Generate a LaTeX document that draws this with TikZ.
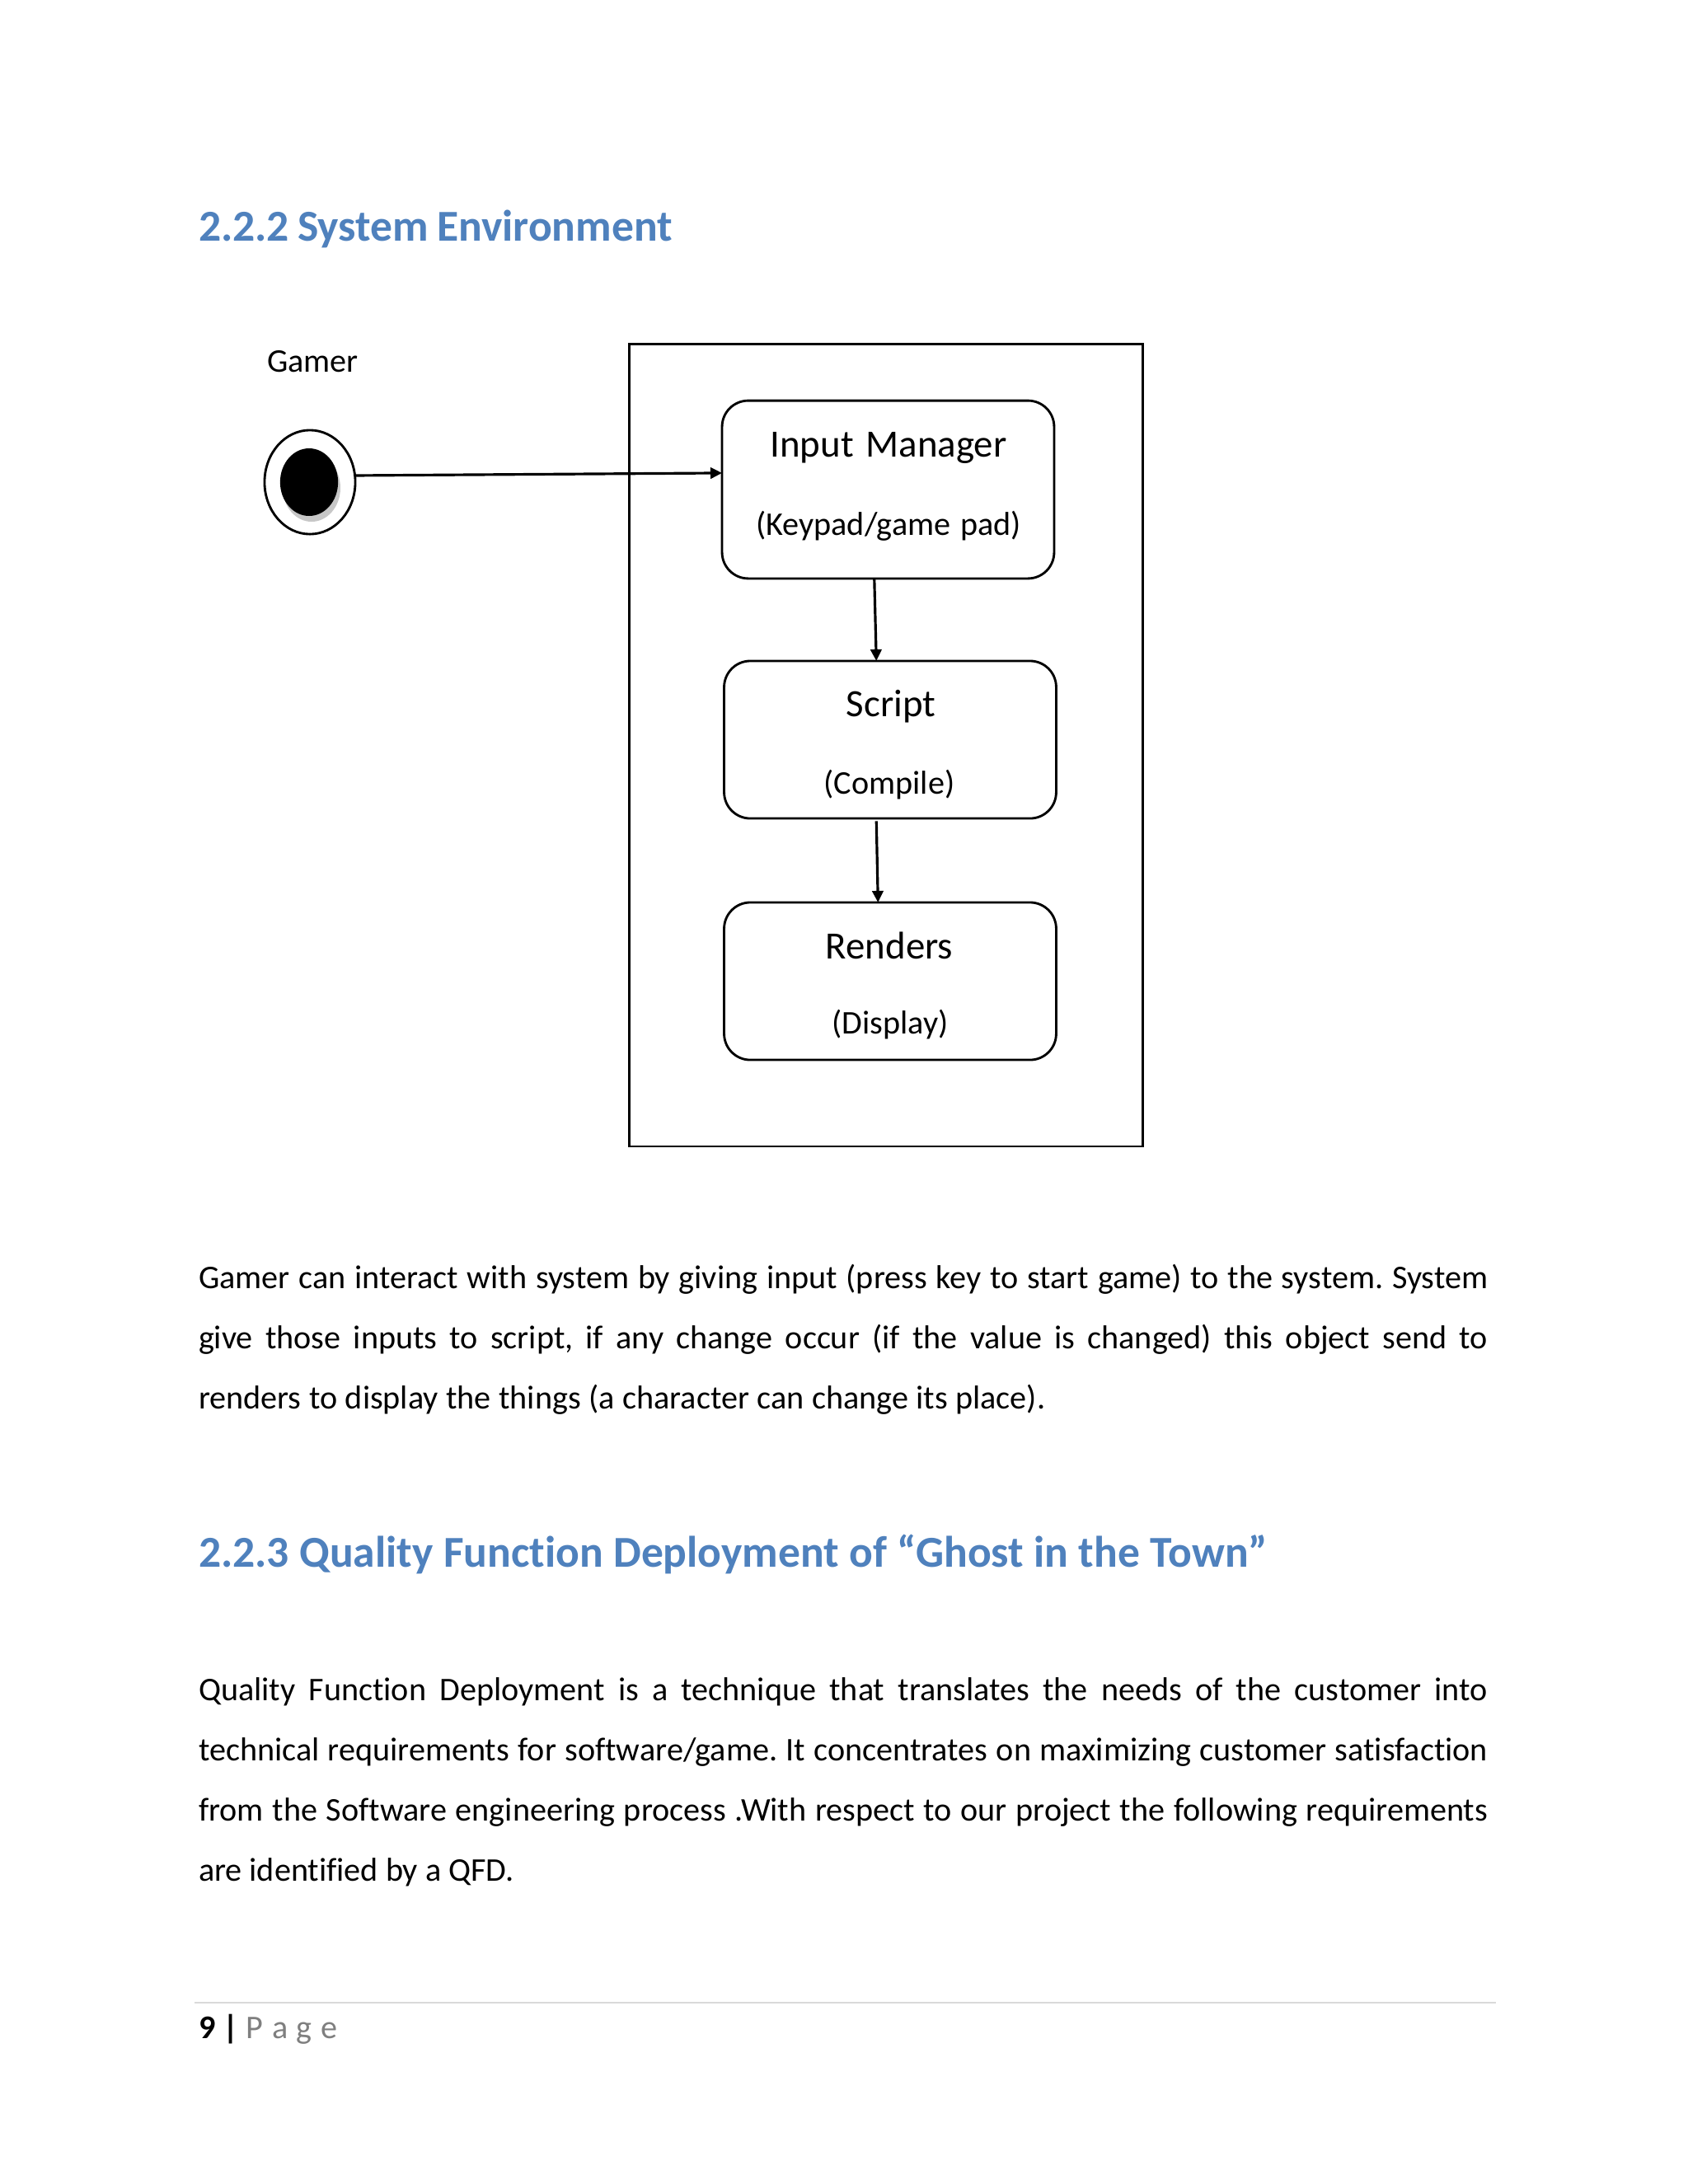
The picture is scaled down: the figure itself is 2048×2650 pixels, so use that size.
\documentclass[tikz,border=0pt]{standalone}
\usepackage{fontspec}
\setmainfont[Ligatures=CommonOff]{Carlito}
\usetikzlibrary{shapes.geometric,arrows.meta}
\definecolor{headblue}{HTML}{4F81BD}
\definecolor{pagegray}{HTML}{7F7F7F}
\definecolor{rulegray}{HTML}{D9D9D9}
\newcommand{\just}[1]{\makebox[467.4pt][s]{#1}}
\frenchspacing
\tikzset{
  x=0.29883pt,y=-0.29883pt,
  txt/.style={inner sep=0pt,outer sep=0pt,anchor=base west,font=\fontsize{12}{14}\selectfont},
  head/.style={inner sep=0pt,outer sep=0pt,anchor=base west,text=headblue,font=\fontsize{16}{19}\selectfont\bfseries},
  big/.style={inner sep=0pt,outer sep=0pt,anchor=base,font=\fontsize{14}{17}\selectfont},
  small/.style={inner sep=0pt,outer sep=0pt,anchor=base,font=\fontsize{12}{14}\selectfont},
  statebox/.style={draw,line width=0.85pt,rounded corners=9.5pt,inner sep=0pt,outer sep=0pt,minimum width=120.4pt},
  conn/.style={line width=0.95pt,-{Triangle[length=4.2pt,width=4pt]}},
}
\begin{document}
\begin{tikzpicture}
\useasboundingbox[fill=white] (0,0) rectangle (2048,2650);
\node[head] (h1) at (241,292) {\makebox[171.8pt][s]{2.2.2 System Environment}};
\node[txt] (gamer) at (324,451) {Gamer};
\node[draw,line width=0.85pt,inner sep=0pt,minimum width=186pt,minimum height=291pt,rectangle,outer sep=0pt] (system) at (1075,904) {};
\fill[black!22] (378,592) ellipse [x radius=35,y radius=41];
\node[draw,ellipse,line width=0.85pt,inner sep=0pt,outer sep=0pt,minimum width=32.9pt,minimum height=37.7pt] (actor) at (376,585) {};
\node[fill=black,ellipse,inner sep=0pt,outer sep=0pt,minimum width=21pt,minimum height=24.5pt] (dot) at (375,585) {};
\node[statebox,minimum height=64.5pt] (b1) at (1077.5,594) {};
\node[statebox,minimum height=57.1pt] (b2) at (1080,897.5) {};
\node[statebox,minimum height=57.1pt] (b3) at (1080,1190.5) {};
\node[big] (t1) at (1078,554) {\makebox[85.8pt][s]{Input Manager}};
\node[small] (s1) at (1078,649) {\makebox[96pt][s]{(Keypad/game pad)}};
\node[big] (t2) at (1081,869) {Script};
\node[small] (s2) at (1079,963) {(Compile)};
\node[big] (t3) at (1079,1163) {Renders};
\node[small] (s3) at (1080,1254) {(Display)};
\draw[conn] ([yshift=2.4pt]actor.east) -- ([yshift=6pt]b1.west);
\draw[conn] ([xshift=-5pt]b1.south) -- ([xshift=-5pt]b2.north);
\draw[conn] ([xshift=-5pt,yshift=-1pt]b2.south) -- ([xshift=-4.4pt]b3.north);
\node[txt] (p1a) at (241,1563) {\just{Gamer can interact with system by giving input (press key to start game) to the system. System}};
\node[txt] (p1b) at (241,1636) {\just{give those inputs to script, if any change occur (if the value is changed) this object send to}};
\node[txt] (p1c) at (241,1709) {\makebox[307pt][s]{renders to display the things (a character can change its place).}};
\node[head] (h2) at (241,1901) {\makebox[387.5pt][s]{2.2.3 Quality Function Deployment of “Ghost in the Town”}};
\node[txt] (p2a) at (241,2063) {\just{Quality Function Deployment is a technique that translates the needs of the customer into}};
\node[txt] (p2b) at (241,2136) {\just{technical requirements for software/game. It concentrates on maximizing customer satisfaction}};
\node[txt] (p2c) at (241,2209) {\just{from the Software engineering process .With respect to our project the following requirements}};
\node[txt] (p2d) at (241,2282) {are identified by a QFD.};
\draw[rulegray,line width=0.8pt] (236,2430) -- (1815,2430);
\node[txt] (foot) at (241,2473) {\textbf{9 |} \textcolor{pagegray}{P\hspace{3.2pt}a\hspace{3.2pt}g\hspace{3.2pt}e}};
\end{tikzpicture}
\end{document}
